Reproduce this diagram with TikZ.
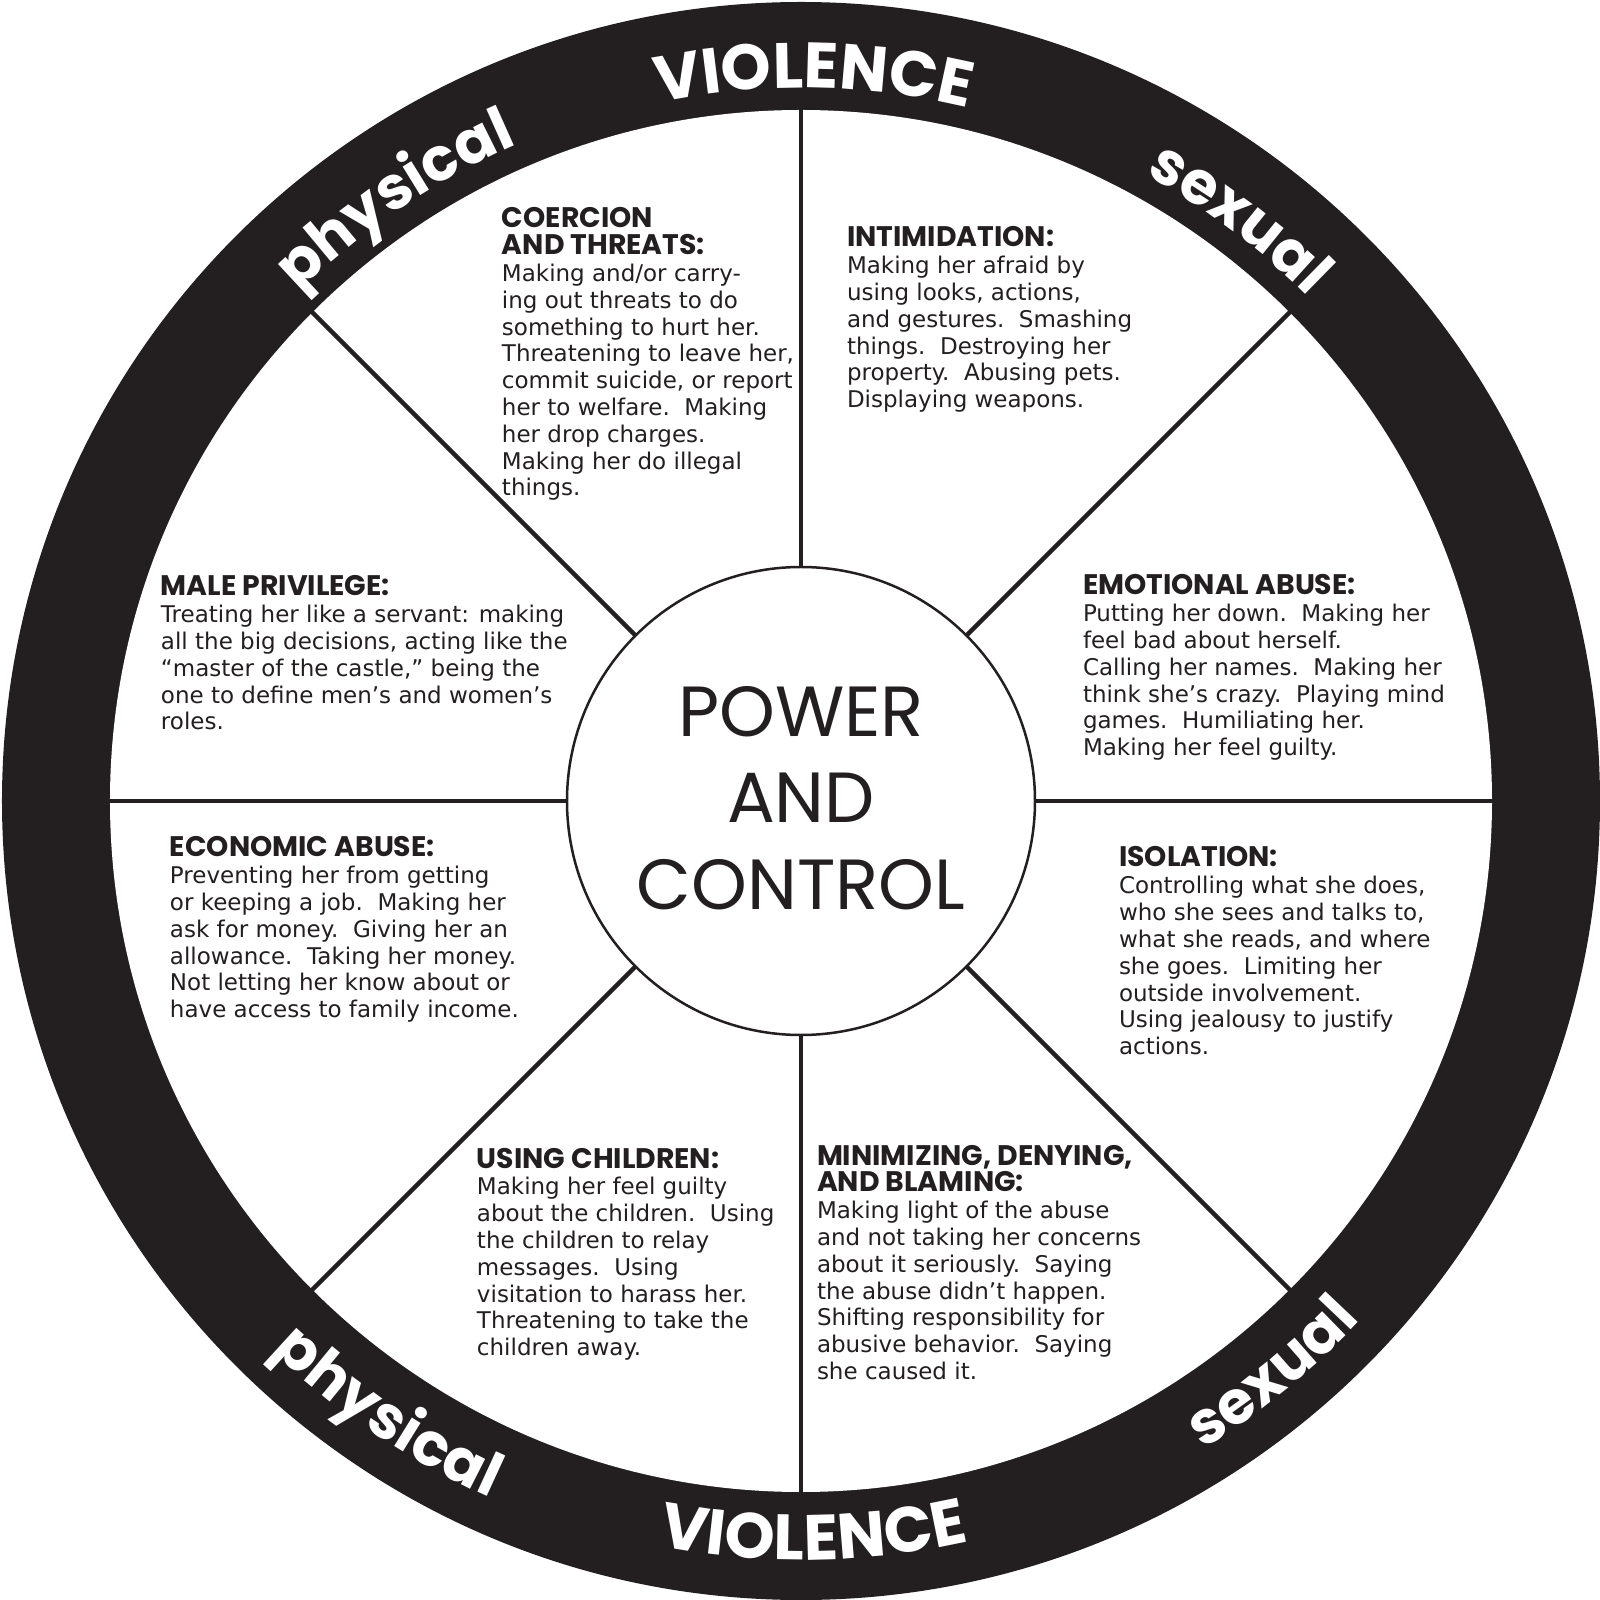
\documentclass[tikz,border=0pt]{standalone}
\usepackage{fontspec}
\usetikzlibrary{decorations.text}
\newfontfamily\bodyfont{DejaVu Sans}
\newfontfamily\popfont{Poppins}
\definecolor{ink}{RGB}{35,31,32}
\newcommand\hd[1]{{\popfont\bfseries\fontsize{28.3}{26.8}\selectfont #1}}
\newcommand\tblock[1]{\vtop{\baselineskip=26.8pt\lineskiplimit=-100pt\lineskip=0pt\halign{##\hfil\cr#1\crcr}}}
\newcommand\rimfont{\popfont\bfseries\fontsize{64}{64}\selectfont\color{white}}
\newcommand\rimsmall{\popfont\bfseries\fontsize{60}{60}\selectfont\color{white}}
\newcommand\dsp{\ \ }
\tikzset{
 txt/.style={anchor=base west, inner sep=0pt, outer sep=0pt, text=ink, font=\bodyfont\fontsize{23}{26.8}\selectfont},
 spoke/.style={draw=ink, line width=4.5pt},
 hubstyle/.style={circle, draw=ink, line width=2.5pt, minimum size=468pt, inner sep=0pt, outer sep=0pt},
 pc/.style={anchor=base, inner sep=0pt, text=ink, font=\popfont\fontsize{71}{71}\selectfont},
 rimtext/.style={decorate, decoration={text along path, text align=center, text={|\rimfont|#1}}},
 rimword/.style={decorate, decoration={text along path, text align=center, text={|\rimsmall|#1}}},
}
\begin{document}
\begin{tikzpicture}[x=1pt,y=1pt]
\useasboundingbox (-801,-799) rectangle (799,801);
\fill[white] (-801,-799) rectangle (799,801);
\fill[ink] (0,0) circle[radius=799];
\fill[white] (0,0) circle[radius=691];
\node[hubstyle] (hub) at (0,0) {};
\foreach \a in {0,45,...,315} {
  \coordinate (rim\a) at (\a:694);
  \draw[spoke] (hub.\a) -- (rim\a);
}
% centre
\node[pc] (power) at (0,64) {POWER};
\node[pc] (and) at (0,-22) {AND};
\node[pc] (control) at (0,-108) {CONTROL};
% blocks
\node[txt] (coercion) at (-299,573) {\tblock{\hd{COERCION}\cr
\hd{AND THREATS:}\cr
Making and/or carry-\cr
ing out threats to do\cr
something to hurt her.\cr
Threatening to leave her,\cr
commit suicide, or report\cr
her to welfare.\dsp Making\cr
her drop charges.\cr
Making her do illegal\cr
things.\cr}};
\node[txt] (intimidation) at (46,554) {\tblock{\hd{INTIMIDATION:}\cr
Making her afraid by\cr
using looks, actions,\cr
and gestures.\dsp Smashing\cr
things.\dsp Destroying her\cr
property.\dsp Abusing pets.\cr
Displaying weapons.\cr}};
\node[txt] (male) at (-640,205) {\tblock{\hd{MALE PRIVILEGE:}\cr
Treating her like a servant: making\cr
all the big decisions, acting like the\cr
“master of the castle,” being the\cr
one to define men’s and women’s\cr
roles.\cr}};
\node[txt] (emotional) at (282,206) {\tblock{\hd{EMOTIONAL ABUSE:}\cr
Putting her down.\dsp Making her\cr
feel bad about herself.\cr
Calling her names.\dsp Making her\cr
think she’s crazy.\dsp Playing mind\cr
games.\dsp Humiliating her.\cr
Making her feel guilty.\cr}};
\node[txt] (economic) at (-631,-56) {\tblock{\hd{ECONOMIC ABUSE:}\cr
Preventing her from getting\cr
or keeping a job.\dsp Making her\cr
ask for money.\dsp Giving her an\cr
allowance.\dsp Taking her money.\cr
Not letting her know about or\cr
have access to family income.\cr}};
\node[txt] (isolation) at (318,-66) {\tblock{\hd{ISOLATION:}\cr
Controlling what she does,\cr
who she sees and talks to,\cr
what she reads, and where\cr
she goes.\dsp Limiting her\cr
outside involvement.\cr
Using jealousy to justify\cr
actions.\cr}};
\node[txt] (children) at (-324,-367) {\tblock{\hd{USING CHILDREN:}\cr
Making her feel guilty\cr
about the children.\dsp Using\cr
the children to relay\cr
messages.\dsp Using\cr
visitation to harass her.\cr
Threatening to take the\cr
children away.\cr}};
\node[txt] (minimizing) at (16,-364) {\tblock{\hd{MINIMIZING, DENYING,}\cr
\hd{AND BLAMING:}\cr
Making light of the abuse\cr
and not taking her concerns\cr
about it seriously.\dsp Saying\cr
the abuse didn’t happen.\cr
Shifting responsibility for\cr
abusive behavior.\dsp Saying\cr
she caused it.\cr}};
% rim words
\path[rimtext=VIOLENCE] (124:713) arc[start angle=124, end angle=54, radius=713];
\path[rimword=physical] (149:715) arc[start angle=149, end angle=99, radius=715];
\path[rimword=sexual] (78:715) arc[start angle=78, end angle=28, radius=715];
\path[rimtext=VIOLENCE] (236:759) arc[start angle=236, end angle=306, radius=759];
\path[rimword=physical] (211:763) arc[start angle=211, end angle=261, radius=763];
\path[rimword=sexual] (284.5:763) arc[start angle=284.5, end angle=334.5, radius=763];
\end{tikzpicture}
\end{document}
